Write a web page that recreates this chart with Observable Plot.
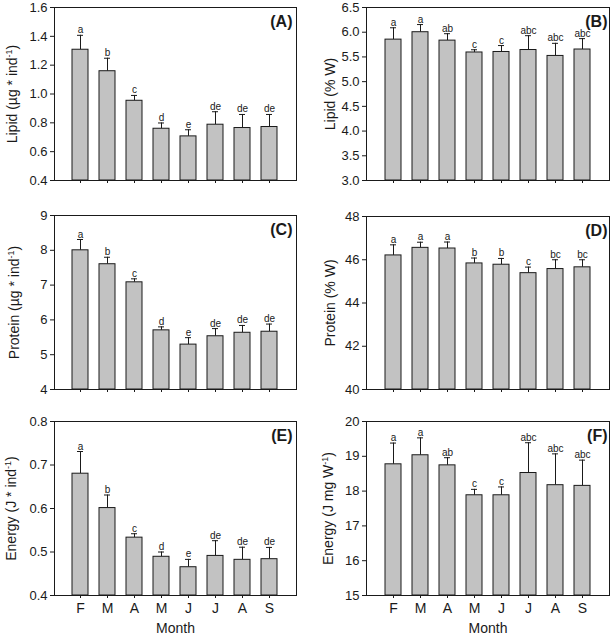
<!DOCTYPE html>
<html><head><meta charset="utf-8">
<script src="https://cdn.jsdelivr.net/npm/d3@7"></script>
<script src="https://cdn.jsdelivr.net/npm/@observablehq/plot@0.6"></script>
<style>
body{margin:0;background:#fff;}
#root{position:relative;width:610px;height:635px;font-family:"Liberation Sans",Arial,sans-serif;}
#root > div{position:absolute;}
</style></head><body><div id="root"></div>
<script>
const months = ["F","M","A","M","J","J","A","S"];

const lipidInd = [1.307,1.158,0.953,0.759,0.706,0.787,0.764,0.771];
const lipidIndErr = [0.10,0.09,0.037,0.04,0.046,0.09,0.094,0.087];
const lipidIndLetters = ["a","b","c","d","e","de","de","de"];

const lipidPct = [5.85,6.00,5.83,5.59,5.60,5.64,5.52,5.65];
const lipidPctErr = [0.24,0.155,0.14,0.055,0.13,0.29,0.255,0.22];
const lipidPctLetters = ["a","a","ab","c","c","abc","abc","abc"];

const protInd = [8.0,7.6,7.08,5.70,5.29,5.53,5.63,5.66];
const protIndErr = [0.31,0.2,0.1,0.1,0.2,0.22,0.21,0.22];
const protIndLetters = ["a","b","c","d","e","de","de","de"];

const protPct = [46.2,46.55,46.52,45.83,45.77,45.38,45.57,45.65];
const protPctErr = [0.49,0.26,0.3,0.25,0.29,0.28,0.43,0.35];
const protPctLetters = ["a","a","a","b","b","c","bc","bc"];

const energyInd = [0.680,0.601,0.533,0.489,0.465,0.491,0.482,0.4835];
const energyIndErr = [0.051,0.030,0.009,0.011,0.018,0.035,0.029,0.027];
const energyIndLetters = ["a","b","c","d","e","de","de","de"];

const energyW = [18.77,19.03,18.74,17.88,17.88,18.52,18.17,18.15];
const energyWErr = [0.61,0.50,0.22,0.17,0.24,0.87,0.90,0.74];
const energyWLetters = ["a","a","ab","c","c","abc","abc","abc"];

const yTicksA = [0.4,0.6,0.8,1.0,1.2,1.4,1.6];
const yTicksB = [3.0,3.5,4.0,4.5,5.0,5.5,6.0,6.5];
const yTicksC = [4,5,6,7,8,9];
const yTicksD = [40,42,44,46,48];
const yTicksE = [0.4,0.5,0.6,0.7,0.8];
const yTicksF = [15,16,17,18,19,20];

const panels = [
  {tag:"(A)", vals:lipidInd, errs:lipidIndErr, lets:lipidIndLetters, ticks:yTicksA, fmt:".1f",
   lab:["Lipid (µg * ind","-1",")"], left:0, top:0, w:305, h:205, ml:54, mr:9, mt:7, mb:25, po:0.6, lx:-42, tdx:-4, bottom:false},
  {tag:"(B)", vals:lipidPct, errs:lipidPctErr, lets:lipidPctLetters, ticks:yTicksB, fmt:".1f",
   lab:["Lipid (% W)"], left:305, top:0, w:305, h:205, ml:61, mr:1, mt:7, mb:25, po:0.65, lx:-36, tdx:-2, bottom:false},
  {tag:"(C)", vals:protInd, errs:protIndErr, lets:protIndLetters, ticks:yTicksC, fmt:"d",
   lab:["Protein (µg * ind","-1",")"], left:0, top:205, w:305, h:205, ml:54, mr:9, mt:10, mb:21, po:0.6, lx:-40, tdx:-4, bottom:false},
  {tag:"(D)", vals:protPct, errs:protPctErr, lets:protPctLetters, ticks:yTicksD, fmt:"d",
   lab:["Protein (% W)"], left:305, top:205, w:305, h:205, ml:61, mr:1, mt:11, mb:21, po:0.65, lx:-36, tdx:-2, bottom:false},
  {tag:"(E)", vals:energyInd, errs:energyIndErr, lets:energyIndLetters, ticks:yTicksE, fmt:".1f",
   lab:["Energy (J * ind","-1",")"], left:0, top:410, w:305, h:225, ml:54, mr:9, mt:11, mb:40, po:0.6, lx:-43, tdx:-4, bottom:true},
  {tag:"(F)", vals:energyW, errs:energyWErr, lets:energyWLetters, ticks:yTicksF, fmt:"d",
   lab:["Energy (J mg W","-1",")"], left:305, top:410, w:305, h:225, ml:61, mr:1, mt:11, mb:40, po:0.65, lx:-38, tdx:-2, bottom:true}
];

const root = document.getElementById("root");
const ink = "#1a1a1a";

for (const p of panels) {
  const data = p.vals.map((v,i)=>({i, v, e:p.errs[i], l:p.lets[i]}));
  const ymin = p.ticks[0], ymax = p.ticks[p.ticks.length-1];
  const fmt = d3.format(p.fmt);
  const labelText = p.lab.join("");
  const svg = Plot.plot({
    width:p.w, height:p.h,
    marginLeft:p.ml, marginRight:p.mr, marginTop:p.mt, marginBottom:p.mb,
    style:{fontFamily:'"Liberation Sans",Arial,sans-serif', background:"transparent", color:ink, overflow:"visible"},
    x:{type:"band", domain:d3.range(8), paddingInner:0.4, paddingOuter:p.po, label:null},
    y:{domain:[ymin,ymax], label:null},
    marks:[
      Plot.ruleX(data, {x:"i", y1:"v", y2:d=>d.v+d.e, stroke:ink, strokeWidth:1}),
      Plot.tickY(data, {x:"i", y:d=>d.v+d.e, stroke:ink, strokeWidth:1, inset:5}),
      Plot.barY(data, {x:"i", y1:ymin, y2:"v", fill:"#c2c2c2", stroke:ink, strokeWidth:1}),
      Plot.text(data, {x:"i", y:d=>d.v+d.e, text:"l", dy:-2, lineAnchor:"bottom", fontSize:10, fill:ink}),
      Plot.frame({stroke:ink, strokeWidth:1}),
      Plot.axisY({ticks:p.ticks, tickFormat:fmt, tickSize:4, tickPadding:3, fontSize:13, label:null, stroke:ink}),
      Plot.axisX({tickSize:3, tickPadding:5, fontSize:14, label:null, stroke:ink,
        tickFormat: p.bottom ? (i=>months[i]) : (()=>"")}),
      Plot.text([labelText], {text:d=>d, frameAnchor:"left", dx:p.lx, rotate:-90, textAnchor:"middle", lineAnchor:"middle", fontSize:14, fill:ink}),
      Plot.text([p.tag], {text:d=>d, frameAnchor:"top-right", dx:p.tdx, dy:14, textAnchor:"end", lineAnchor:"middle", fontSize:16, fontWeight:"bold", fill:ink}),
      ...(p.bottom ? [Plot.text(["Month"], {text:d=>d, frameAnchor:"bottom", dy:33, textAnchor:"middle", lineAnchor:"middle", fontSize:14, fill:ink})] : [])
    ]
  });
  if (p.lab.length === 3) {
    const t = Array.from(svg.querySelectorAll("text")).find(el => el.textContent === labelText);
    if (t) {
      while (t.firstChild) t.removeChild(t.firstChild);
      const ns = "http://www.w3.org/2000/svg";
      const a = document.createElementNS(ns,"tspan"); a.textContent = p.lab[0];
      const b = document.createElementNS(ns,"tspan"); b.textContent = p.lab[1];
      b.setAttribute("dy","-5"); b.setAttribute("font-size","9");
      const c = document.createElementNS(ns,"tspan"); c.textContent = p.lab[2];
      c.setAttribute("dy","5");
      t.appendChild(a); t.appendChild(b); t.appendChild(c);
    }
  }
  const div = document.createElement("div");
  div.style.left = p.left + "px"; div.style.top = p.top + "px";
  div.appendChild(svg);
  root.appendChild(div);
}
</script></body></html>
